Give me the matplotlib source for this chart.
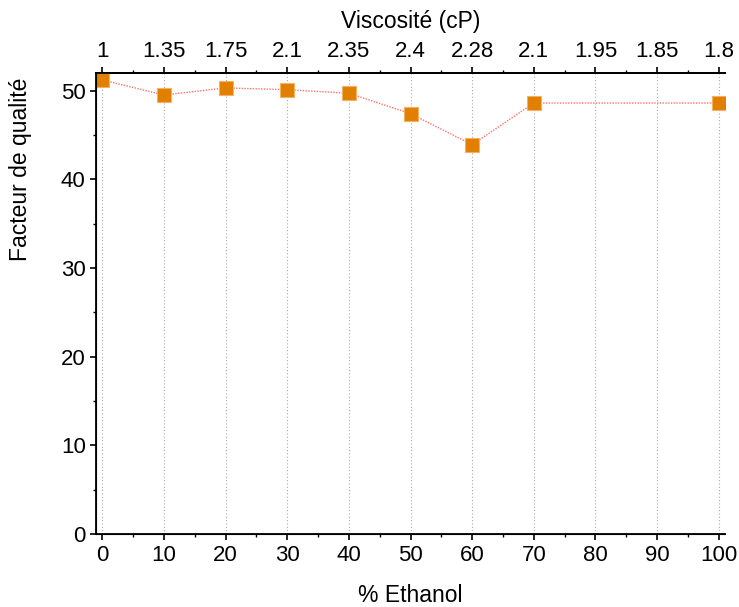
import matplotlib
matplotlib.use("Agg")
import matplotlib.pyplot as plt
from matplotlib.ticker import MultipleLocator

plt.rcParams['font.family'] = ['Liberation Sans', 'DejaVu Sans']

ethanol = [0, 10, 20, 30, 40, 50, 60, 70, 100]
quality = [51.2, 49.5, 50.3, 50.1, 49.7, 47.4, 43.9, 48.6, 48.6]

top_ticks = [0, 10, 20, 30, 40, 50, 60, 70, 80, 90, 100]
viscosity_labels = ["1", "1.35", "1.75", "2.1", "2.35", "2.4", "2.28",
                    "2.1", "1.95", "1.85", "1.8"]

TICK_FS = 16
LABEL_FS = 16.5

fig = plt.figure(figsize=(7.39, 6.07), dpi=100)
ax = fig.add_axes([0.130, 0.120, 0.851, 0.760])

ax.plot(ethanol, quality, linestyle=(0, (1, 1)), color="#ff7070", linewidth=1.0, zorder=2)
ax.plot(ethanol, quality, linestyle="none", marker="s", markersize=9.5,
        markerfacecolor="#e07f00", markeredgecolor="#f5b060", markeredgewidth=0.8, zorder=3)

ax.set_xlim(-1, 101)
ax.set_ylim(0, 52)
ax.xaxis.set_major_locator(MultipleLocator(10))
ax.xaxis.set_minor_locator(MultipleLocator(5))
ax.yaxis.set_major_locator(MultipleLocator(10))
ax.yaxis.set_minor_locator(MultipleLocator(5))
ax.grid(axis="x", which="major", linestyle=(0, (1, 2)), color="#aaaaaa", linewidth=0.8)
ax.set_axisbelow(True)

ax.spines["right"].set_visible(False)
for side in ["left", "bottom", "top"]:
    ax.spines[side].set_linewidth(1.3)

ax.tick_params(which="major", direction="out", length=4, width=1.2, labelsize=TICK_FS)
ax.tick_params(which="minor", direction="out", length=2.5, width=1.0)
ax.set_xlabel("% Ethanol", fontsize=LABEL_FS, labelpad=13)
ax.set_ylabel("Facteur de qualité", fontsize=LABEL_FS)
ax.yaxis.set_label_coords(-0.102, 0.79)

ax2 = ax.twiny()
ax2.set_xlim(ax.get_xlim())
ax2.set_xticks(top_ticks)
ax2.set_xticklabels(viscosity_labels)
ax2.xaxis.set_minor_locator(MultipleLocator(5))
ax2.spines["right"].set_visible(False)
ax2.spines["top"].set_linewidth(1.3)
ax2.tick_params(which="major", direction="out", length=4, width=1.2, labelsize=TICK_FS)
ax2.tick_params(which="minor", direction="out", length=2.5, width=1.0)
ax2.set_xlabel("Viscosité (cP)", fontsize=LABEL_FS, labelpad=10)

fig.savefig("out.png", dpi=100)
